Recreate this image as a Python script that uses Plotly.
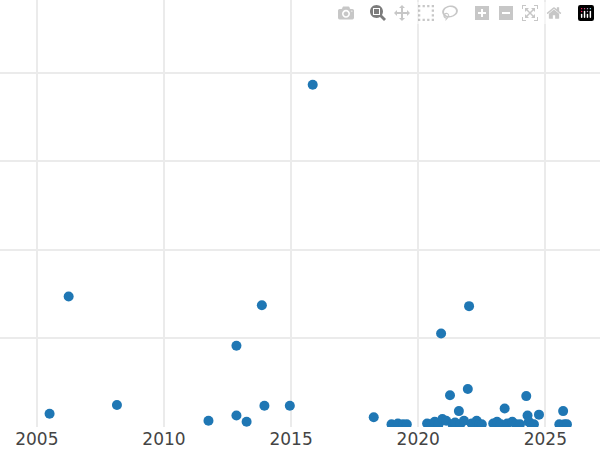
import plotly.graph_objects as go

# decimal year, value (gridline step = 1)
years = [2005.5, 2006.25, 2008.15, 2011.75, 2012.85, 2012.85, 2013.25, 2013.85, 2013.95, 2014.95,
         2015.85, 2018.25, 2018.95, 2019.2, 2019.4, 2019.55,
         2020.35, 2020.5, 2020.65, 2020.8, 2020.9, 2020.95, 2021.1, 2021.25, 2021.35, 2021.45,
         2021.6, 2021.65, 2021.8, 2021.95, 2022.0, 2022.1, 2022.3, 2022.4, 2022.5,
         2022.95, 2023.1, 2023.25, 2023.4, 2023.5, 2023.7, 2023.85, 2024.0, 2024.25, 2024.3,
         2024.35, 2024.45, 2024.55, 2024.75, 2025.55, 2025.7, 2025.75, 2025.85]
values = [0.14, 1.47, 0.24, 0.06, 0.91, 0.12, 0.05, 1.37, 0.23, 0.23,
          3.87, 0.10, 0.02, 0.03, 0.02, 0.02,
          0.03, 0.02, 0.05, 0.02, 1.05, 0.08, 0.06, 0.35, 0.02, 0.04,
          0.17, 0.02, 0.06, 0.42, 1.36, 0.03, 0.06, 0.02, 0.02,
          0.03, 0.05, 0.02, 0.20, 0.03, 0.05, 0.02, 0.02, 0.34, 0.12,
          0.05, 0.02, 0.02, 0.13, 0.02, 0.17, 0.02, 0.02]

fig = go.Figure(go.Scatter(x=years, y=values, mode="markers",
                           marker=dict(size=10, color="#1f77b4")))

fig.update_layout(
    width=600, height=450,
    margin=dict(l=0, r=0, t=0, b=23),
    plot_bgcolor="white", paper_bgcolor="white",
    showlegend=False,
    font=dict(family="DejaVu Sans, Verdana, sans-serif", size=17, color="#444"),
)
fig.update_xaxes(range=[2003.55, 2027.15], dtick=5, tick0=2005,
                 showgrid=True, gridcolor="#ebebeb", gridwidth=1.5,
                 zeroline=False, showline=False, ticks="")
fig.update_yaxes(range=[-0.01, 4.83], dtick=1, showticklabels=False,
                 showgrid=True, gridcolor="#ebebeb", gridwidth=1.5,
                 zeroline=False, showline=False)

fig.write_html("out.html", post_script="document.body.style.margin='0';")
